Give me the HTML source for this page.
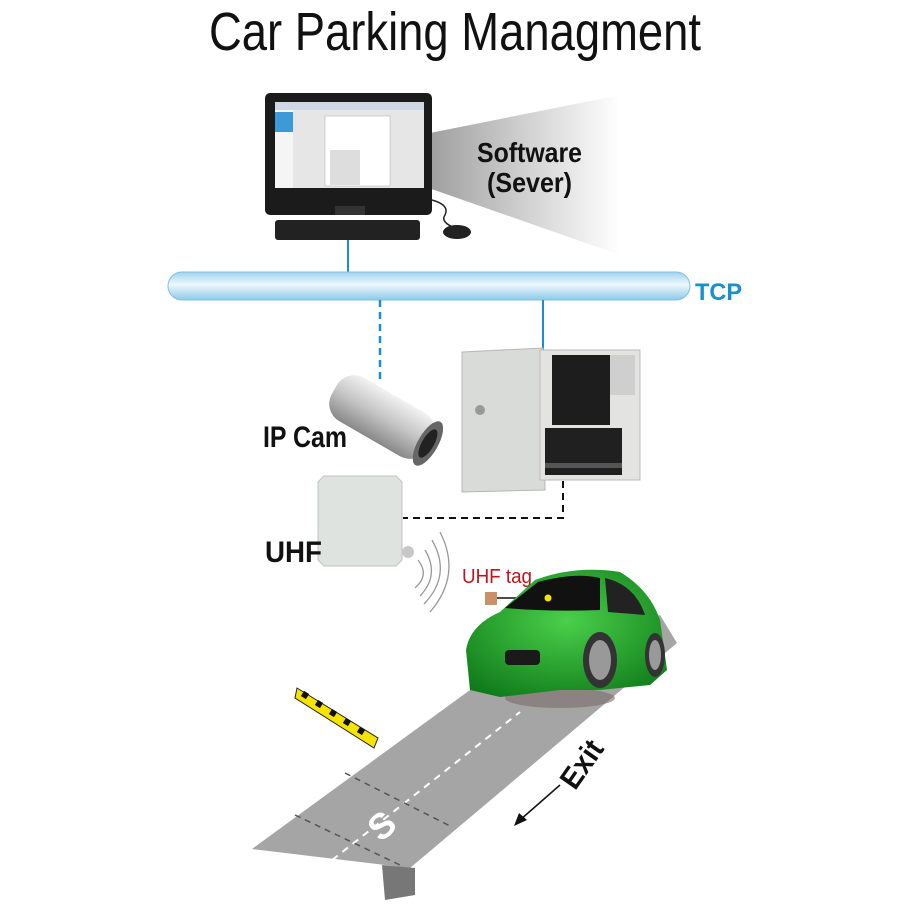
<!DOCTYPE html>
<html><head><meta charset="utf-8"><style>
html,body{margin:0;padding:0;background:#fff;}
svg{display:block;}
.c{font-family:"Liberation Sans Narrow","Liberation Sans",sans-serif;}
</style></head><body>
<svg width="910" height="910" viewBox="0 0 910 910" xmlns="http://www.w3.org/2000/svg">
<defs>
<linearGradient id="beam" x1="0" x2="1" y1="0" y2="0"><stop offset="0" stop-color="#9a9a9a"/><stop offset="0.6" stop-color="#d8d8d8"/><stop offset="1" stop-color="#fff"/></linearGradient>
<linearGradient id="pipe" x1="0" x2="0" y1="0" y2="1"><stop offset="0" stop-color="#9fd3ef"/><stop offset="0.45" stop-color="#eef8fd"/><stop offset="1" stop-color="#8cc9ea"/></linearGradient>
<linearGradient id="cam" x1="0" x2="0" y1="0" y2="1"><stop offset="0" stop-color="#f2f2f2"/><stop offset="0.5" stop-color="#c4c4c4"/><stop offset="1" stop-color="#888"/></linearGradient>
<radialGradient id="car" cx="0.5" cy="0.4" r="0.7"><stop offset="0" stop-color="#4ad04a"/><stop offset="1" stop-color="#0f7a1a"/></radialGradient>
</defs>
<text x="455" y="50" text-anchor="middle" class="c" font-size="54" fill="#111" textLength="492" lengthAdjust="spacingAndGlyphs">Car Parking Managment</text>

<polygon points="420,135 620,95 620,255 420,185" fill="url(#beam)"/>
<text x="477" y="162" class="c" font-weight="bold" font-size="28" fill="#111" textLength="105" lengthAdjust="spacingAndGlyphs">Software</text>
<text x="487" y="192" class="c" font-weight="bold" font-size="28" fill="#111" textLength="85" lengthAdjust="spacingAndGlyphs">(Sever)</text>

<rect x="265" y="93" width="167" height="122" rx="5" fill="#1b1b1b"/>
<rect x="275" y="102" width="149" height="86" fill="#e6e6e6"/>
<rect x="275" y="102" width="149" height="8" fill="#cfd9e6"/>
<rect x="275" y="110" width="18" height="78" fill="#f5f5f5"/>
<rect x="275" y="112" width="18" height="20" fill="#3d9ad8"/>
<rect x="325" y="116" width="65" height="70" fill="#fff" stroke="#aaa" stroke-width="0.5"/>
<rect x="330" y="150" width="30" height="35" fill="#ddd"/>
<rect x="335" y="206" width="30" height="9" fill="#333"/>
<path d="M432,200 Q450,205 445,215 Q440,222 455,228" stroke="#222" fill="none" stroke-width="1.5"/>
<rect x="275" y="220" width="145" height="20" rx="3" fill="#222"/>
<ellipse cx="457" cy="232" rx="14" ry="7" fill="#222"/>
<line x1="348" y1="240" x2="348" y2="273" stroke="#1a8fd0" stroke-width="2"/>

<rect x="168" y="272" width="522" height="28" rx="14" fill="url(#pipe)" stroke="#7fc0e4" stroke-width="1"/>
<text x="695" y="300" class="c" font-weight="bold" font-size="24" fill="#1a8fd0" textLength="47" lengthAdjust="spacingAndGlyphs">TCP</text>
<line x1="380" y1="300" x2="380" y2="382" stroke="#1a8fd0" stroke-width="2.5" stroke-dasharray="7,5"/>
<line x1="543" y1="300" x2="543" y2="352" stroke="#1a8fd0" stroke-width="2"/>

<g transform="translate(382,417) rotate(30)">
<rect x="-55" y="-25" width="110" height="50" rx="20" fill="url(#cam)"/>
<ellipse cx="53" cy="0" rx="10" ry="25" fill="#666"/>
<ellipse cx="53" cy="0" rx="6" ry="16" fill="#222"/>
</g>
<text x="263" y="447" class="c" font-weight="bold" font-size="30" fill="#111" textLength="84" lengthAdjust="spacingAndGlyphs">IP Cam</text>

<polygon points="462,352 543,348 545,490 462,492" fill="#d9dbd8" stroke="#b5b7b4"/>
<circle cx="480" cy="410" r="5" fill="#999"/>
<rect x="540" y="350" width="100" height="130" fill="#e3e4e1" stroke="#bbb"/>
<rect x="552" y="355" width="58" height="70" fill="#1d1d1d"/>
<rect x="610" y="355" width="25" height="40" fill="#cfcfcf"/>
<rect x="545" y="428" width="77" height="47" fill="#202020"/>
<rect x="545" y="463" width="77" height="5" fill="#555"/>

<polyline points="563,481 563,518 403,518" fill="none" stroke="#111" stroke-width="2" stroke-dasharray="7,5"/>

<polygon points="324,476 396,476 402,482 402,560 396,566 324,566 318,560 318,482" fill="#dfe3e0" stroke="#bfc3c0"/>
<text x="265" y="562" class="c" font-weight="bold" font-size="30" fill="#111" textLength="57" lengthAdjust="spacingAndGlyphs">UHF</text>
<circle cx="408" cy="552" r="6" fill="#c8c8c8"/>
<g fill="none" stroke="#999" stroke-width="1.3">
<path d="M418,560 Q430,575 415,588"/>
<path d="M425,550 Q440,575 420,596"/>
<path d="M432,540 Q452,575 424,604"/>
<path d="M440,532 Q462,575 430,612"/>
</g>
<text x="462" y="583" class="c" font-size="20" fill="#c0141b" textLength="70" lengthAdjust="spacingAndGlyphs">UHF tag</text>
<rect x="485" y="592" width="12" height="13" fill="#c9906a"/>
<line x1="497" y1="598" x2="548" y2="598" stroke="#111" stroke-width="1.5"/>

<polygon points="252,849 410,868 677,643 660,615 470,690" fill="#a5a5a5"/>
<polygon points="382,865 415,868 415,895 385,900" fill="#777"/>
<line x1="322" y1="868" x2="520" y2="712" stroke="#fff" stroke-width="2" stroke-dasharray="7,6"/>
<line x1="345" y1="773" x2="452" y2="827" stroke="#555" stroke-width="1.5" stroke-dasharray="6,5"/>
<line x1="295" y1="815" x2="400" y2="865" stroke="#555" stroke-width="1.5" stroke-dasharray="6,5"/>
<text x="382" y="838" text-anchor="middle" font-family="Liberation Sans" font-weight="bold" font-size="36" fill="#fff" transform="rotate(-40 382 826)">S</text>

<polygon points="297,688 378,738 374,748 295,698" fill="#f5e400" stroke="#222" stroke-width="1"/>
<g fill="#111">
<rect x="302" y="692" width="6" height="6" transform="rotate(32 305 695)"/>
<rect x="316" y="701" width="6" height="6" transform="rotate(32 319 704)"/>
<rect x="330" y="710" width="6" height="6" transform="rotate(32 333 713)"/>
<rect x="344" y="719" width="6" height="6" transform="rotate(32 347 722)"/>
<rect x="358" y="728" width="6" height="6" transform="rotate(32 361 731)"/>
</g>

<ellipse cx="560" cy="698" rx="55" ry="10" fill="#7a6a6a" opacity="0.6"/>
<path d="M470,690 L466,650 Q470,625 500,612 L535,580 Q575,565 620,572 Q650,590 660,620 L667,670 L650,685 L600,690 L560,690 L500,697 Z" fill="url(#car)"/>
<path d="M505,608 L538,582 Q575,572 600,578 L600,610 Q550,612 505,608 Z" fill="#111"/>
<path d="M605,578 Q635,585 645,615 L608,612 Z" fill="#222"/>
<rect x="505" y="650" width="35" height="15" fill="#1a1a1a" rx="4"/>
<ellipse cx="600" cy="660" rx="17" ry="28" fill="#333"/>
<ellipse cx="600" cy="660" rx="11" ry="20" fill="#999"/>
<ellipse cx="655" cy="655" rx="10" ry="22" fill="#333"/>
<ellipse cx="655" cy="655" rx="6" ry="15" fill="#999"/>
<circle cx="548" cy="598" r="3.5" fill="#f5e400"/>

<text x="590" y="770" class="c" font-weight="bold" font-size="30" fill="#111" transform="rotate(-55 590 770)" text-anchor="middle" textLength="52" lengthAdjust="spacingAndGlyphs">Exit</text>
<line x1="560" y1="785" x2="520" y2="820" stroke="#111" stroke-width="1.5"/>
<polygon points="514,826 519,813 527,820" fill="#111"/>
</svg>
</body></html>
